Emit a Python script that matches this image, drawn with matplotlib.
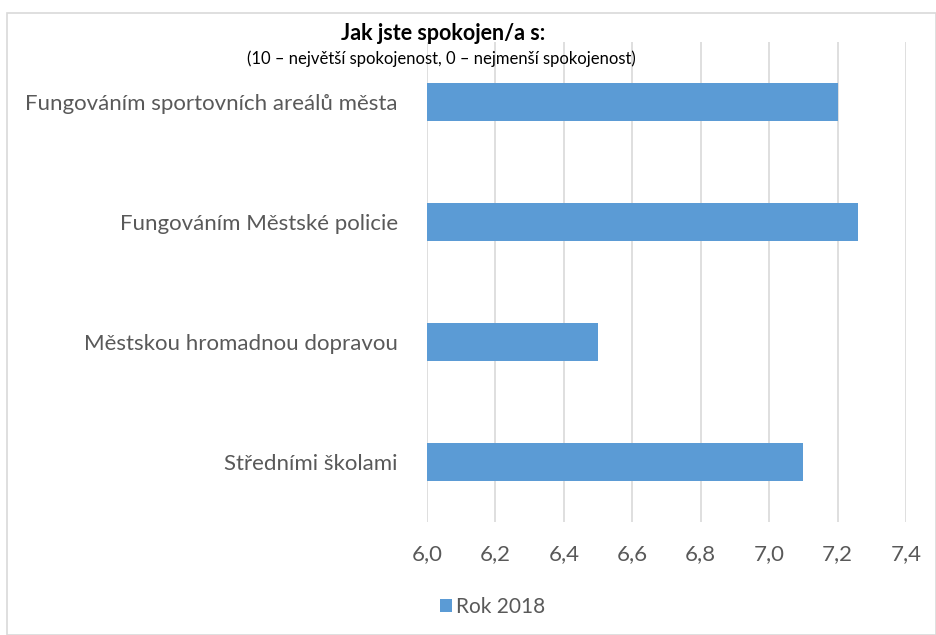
import numpy as np
import matplotlib.pyplot as plt
from matplotlib.patches import Rectangle

plt.rcParams['font.family'] = ['Lato', 'DejaVu Sans']

categories = ["Fungováním sportovních areálů města",
              "Fungováním Městské policie",
              "Městskou hromadnou dopravou",
              "Středními školami"]
values = [7.20, 7.26, 6.50, 7.10]
ticks = [6.0, 6.2, 6.4, 6.6, 6.8, 7.0, 7.2, 7.4]
tick_labels = ["6,0", "6,2", "6,4", "6,6", "6,8", "7,0", "7,2", "7,4"]
series_name = "Rok 2018"

text_col = "#595959"
bar_col = "#5B9BD5"

fig = plt.figure(figsize=(9.37, 6.35), dpi=100)
W, H = 937, 635
ax = fig.add_axes([427 / W, 1 - 522 / H, (906 - 427) / W, (522 - 42) / H])

y = np.arange(len(categories))
ax.barh(y, np.array(values) - 6.0, left=6.0, height=0.32, color=bar_col,
        label=series_name, zorder=3)
ax.set_ylim(len(categories) - 0.5, -0.5)
ax.set_xlim(6.0, 7.4)
ax.set_xticks(ticks)
ax.set_xticklabels(tick_labels, fontsize=16, color=text_col)
ax.set_yticks(y)
ax.set_yticklabels(categories, fontsize=16, color=text_col)
ax.tick_params(axis='both', length=0)
ax.tick_params(axis='x', pad=16)
ax.tick_params(axis='y', pad=21)
ax.grid(axis='x', color="#d9d9d9", linewidth=1.2, zorder=0)
for s in ax.spines.values():
    s.set_visible(False)

fig.text(443 / W, 1 - 33 / H, "Jak jste spokojen/a s:", fontsize=15.5,
         fontweight='bold', ha='center', va='center', color='black')
fig.text(441 / W, 1 - 59 / H,
         "(10 – největší spokojenost, 0 – nejmenší spokojenost)",
         fontsize=12, ha='center', va='center', color='black')

leg = fig.legend(loc='center left', bbox_to_anchor=(421 / W, 1 - 607 / H),
                 frameon=False, fontsize=15, handlelength=0.6,
                 handleheight=0.6, handletextpad=0.2, labelcolor=text_col)

fig.patches.append(Rectangle((7 / W, 0), 1 - 7 / W - 1 / W, 1 - 13 / H,
                             transform=fig.transFigure, fill=False,
                             edgecolor="#d9d9d9", linewidth=1.2))

fig.savefig("out.png", dpi=100)
